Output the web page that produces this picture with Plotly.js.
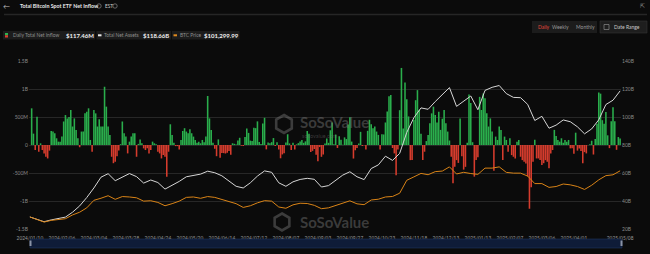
<!DOCTYPE html>
<html>
<head>
<meta charset="utf-8">
<script src="https://cdn.plot.ly/plotly-3.0.1.min.js"></script>
<style>html,body{margin:0;padding:0;background:#0b0b0b;}#chart{width:650px;height:254px;}</style>
</head>
<body>
<div id="chart"></div>
<script>
// ---- categories: US trading days (YYYY/MM, days) ----
const tradingMonths = [
  ["2024/01",[10,11,12,16,17,18,19,22,23,24,25,26,29,30,31]],
  ["2024/02",[1,2,5,6,7,8,9,12,13,14,15,16,20,21,22,23,26,27,28,29]],
  ["2024/03",[1,4,5,6,7,8,11,12,13,14,15,18,19,20,21,22,25,26,27,28]],
  ["2024/04",[1,2,3,4,5,8,9,10,11,12,15,16,17,18,19,22,23,24,25,26,29,30]],
  ["2024/05",[1,2,3,6,7,8,9,10,13,14,15,16,17,20,21,22,23,24,28,29,30,31]],
  ["2024/06",[3,4,5,6,7,10,11,12,13,14,17,18,20,21,24,25,26,27,28]],
  ["2024/07",[1,2,3,5,8,9,10,11,12,15,16,17,18,19,22,23,24,25,26,29,30,31]],
  ["2024/08",[1,2,5,6,7,8,9,12,13,14,15,16,19,20,21,22,23,26,27,28,29,30]],
  ["2024/09",[3,4,5,6,9,10,11,12,13,16,17,18,19,20,23,24,25,26,27,30]],
  ["2024/10",[1,2,3,4,7,8,9,10,11,14,15,16,17,18,21,22,23,24,25,28,29,30,31]],
  ["2024/11",[1,4,5,6,7,8,11,12,13,14,15,18,19,20,21,22,25,26,27,29]],
  ["2024/12",[2,3,4,5,6,9,10,11,12,13,16,17,18,19,20,23,24,26,27,30,31]],
  ["2025/01",[2,3,6,7,8,10,13,14,15,16,17,21,22,23,24,27,28,29,30,31]],
  ["2025/02",[3,4,5,6,7,10,11,12,13,14,18,19,20,21,24,25,26,27,28]],
  ["2025/03",[3,4,5,6,7,10,11,12,13,14,17,18,19,20,21,24,25,26,27,28,31]],
  ["2025/04",[1,2,3,4,7,8,9,10,11,14,15,16,17,21,22,23,24,25,28,29,30]],
  ["2025/05",[1,2,5,6,7,8]]
];
const dates = tradingMonths.flatMap(([m, ds]) => ds.map(d => m + "/" + String(d).padStart(2, "0")));

const tickLabels = ["2024/01/10","2024/02/06","2024/03/04","2024/03/28","2024/04/24","2024/05/20",
  "2024/06/14","2024/07/12","2024/08/07","2024/09/03","2024/09/27","2024/10/23","2024/11/18",
  "2024/12/13","2025/01/13","2025/02/07","2025/03/06","2025/04/01","2025/05/08"];

// ---- Daily total net inflow (USD millions), one per trading day ----
const dailyNetInflow = [
  // 2024/01
  0,655,203,-90,505,-120,30,-90,-150,-210,-240,-100,250,240,210,
  // 2024/02
  120,60,60,150,420,535,475,500,625,330,475,270,120,-40,240,240,565,595,655,90,
  // 2024/03
  -120,625,565,330,460,330,330,1040,685,330,180,-210,-325,-300,-200,-100,15,420,210,150,
  // 2024/04
  -150,60,150,210,210,-210,20,100,30,-60,-90,-60,-150,-90,60,30,15,-120,-150,-240,-180,-210,
  // 2024/05
  -565,-120,370,180,40,-20,-20,-80,90,250,300,240,210,280,210,150,90,40,60,30,90,50,
  // 2024/06
  150,875,475,270,40,-65,-200,100,-226,-145,-145,-152,-140,-105,-174,31,21,11,82,
  // 2024/07
  129,-13,-20,143,295,216,78,73,310,301,422,53,19,384,486,-78,44,31,51,124,-18,50,
  // 2024/08
  -80,-237,-168,-148,45,192,28,-89,39,-81,11,33,62,88,39,65,252,202,-127,-105,-72,-175,
  // 2024/09
  -288,-37,-211,-169,28,117,39,263,403,13,187,-53,158,93,4,136,106,365,495,61,
  // 2024/10
  -242,-92,-55,25,235,-18,-3,-81,253,450,371,300,330,240,180,-79,192,188,402,600,870,894,-54,
  // 2024/11
  -150,-541,-80,622,1376,294,1114,818,510,-270,-270,445,800,980,625,200,-270,-120,70,180,
  // 2024/12
  390,565,685,535,400,595,270,470,625,390,240,80,-210,-685,-390,-270,-320,475,-200,-440,-390,
  // 2025/01
  40,900,750,50,-565,-270,-220,860,625,920,835,565,330,475,240,-458,150,90,330,270,
  // 2025/02
  -270,150,90,-120,120,-180,-210,-240,60,90,-210,-270,-300,-330,-560,-1138,-755,-300,94,
  // 2025/03
  -240,-240,-270,-355,-325,-270,-300,-415,-150,-90,270,160,90,60,120,40,90,60,90,-60,-60,
  // 2025/04
  -157,220,-100,-64,-109,-326,-127,-150,1.5,15,76,-170,107,381,936,917,443,381,591,173,-56,
  // 2025/05
  422,675,425,-86,142,117.46
];

// ---- Lines: sampled every 4th trading day ----
const lineDates = dates.filter((d, i) => i % 4 === 0);
// Total net assets (USD billions)
const totalNetAssets = [
  28.6,26.8,25.2,26.5,27.4,28.5,32,36.5,42.5,49.3,57,59.5,54.5,57,59.6,57.4,52.8,55,53.2,48.5,
  51,54,57.3,58.2,59.2,61.3,60.2,58,54.3,50.5,49.3,53,57.8,61.5,60.5,53,50.5,53.7,55.4,56.2,
  55.5,50,51,54.5,58.5,60.9,57.3,55.3,63.2,65.8,72,69,74,89,99.5,106.5,105.5,111,116.2,121,
  107.6,111.5,115,105.2,119,121.2,122.5,116.7,114,113.8,109,97.5,100.5,92,94.2,97.9,96.6,93,88,91.5,
  98,108.9,112,118.66
];
// BTC price (USD thousands)
const btcPrice = [
  46.1,42.6,40.0,42,42.8,44,48.5,51.8,57,66,68.5,71.5,67.2,70.5,70,69,65,65.5,63.5,59.5,
  62,65,69.5,70,68.4,70.5,69.5,66.8,64.8,62,57.5,59.5,63,65.6,65,58,56.5,60.6,62.5,62.2,
  60,56,57,59.5,62.3,65.4,61.8,60.8,66.4,67.3,70,70.6,74.5,90,94,98.2,96.6,100.3,101,106,
  97.5,99.5,98,97,104.5,104.5,106,99.4,98.5,98.5,95,86,86,81.5,82.5,85.5,84.5,82.5,79,84,
  90.5,95.5,96.5,101.299
];

// ---- layout helpers (pixel -> paper) ----
const W = 650, H = 254, ML = 29, MR = 29, MT = 61, MB = 6;
const PW = W - ML - MR, PH = H - MT - MB;
const P = px => (px - ML) / PW;
const Q = py => (H - MB - py) / PH;
const FONT = "Lato, 'Open Sans', 'DejaVu Sans', sans-serif";

const annotations = [];
const shapes = [];
function txt(x, y, text, size, color, anchor) {
  annotations.push({xref:"paper", yref:"paper", x:P(x), y:Q(y), text:text, showarrow:false,
    xanchor:anchor || "left", yanchor:"middle", borderpad:0, font:{family:FONT, size:size, color:color}});
}
function rect(x0, y0, x1, y1, fill, line, lw) {
  shapes.push({type:"rect", xref:"paper", yref:"paper", x0:P(x0), x1:P(x1), y0:Q(y1), y1:Q(y0),
    fillcolor:fill, line:{color:line || fill, width:lw === undefined ? 0 : lw}, layer:"above"});
}
function hline(x0, x1, y, color, w) {
  shapes.push({type:"line", xref:"paper", yref:"paper", x0:P(x0), x1:P(x1), y0:Q(y), y1:Q(y),
    line:{color:color, width:w}, layer:"above"});
}
function circle(cx, cy, r, color) {
  shapes.push({type:"circle", xref:"paper", yref:"paper", x0:P(cx - r), x1:P(cx + r), y0:Q(cy + r), y1:Q(cy - r),
    line:{color:color, width:0.7}, layer:"above"});
}
function hexagon(cx, cy, r, color, w) {
  let d = "";
  for (let k = 0; k < 6; k++) {
    const a = Math.PI / 180 * (60 * k - 90);
    const px = cx + r * Math.cos(a), py = cy + r * Math.sin(a);
    d += (k === 0 ? "M" : "L") + P(px) + "," + Q(py);
  }
  d += "Z";
  shapes.push({type:"path", xref:"paper", yref:"paper", path:d, line:{color:color, width:w}, layer:"above"});
}

// header
txt(6, 6, "←", 7, "#bdbdbd", "center");
hline(4, 647, 14.5, "#262626", 1.5);
txt(19, 6, "<b>Total Bitcoin Spot ETF Net Inflow</b>", 5.3, "#e8e8e8");
circle(99, 6, 2.2, "#8a8a8a");
txt(104, 6, "EST", 4.8, "#cfcfcf");
circle(115, 6, 2.2, "#8a8a8a");
txt(642, 6, "⇱", 6, "#9a9a9a", "center");

// buttons
rect(532, 21, 597, 33, "#1c1c1c", "#1c1c1c", 0);
txt(537, 27, "Daily", 5, "#e0463a");
txt(551, 27, "Weekly", 5, "#9a9a9a");
txt(575, 27, "Monthly", 5, "#9a9a9a");
rect(600, 21, 647, 33, "#1e1e1e", "#333333", 0.6);
rect(604, 24.5, 609, 29.5, "rgba(0,0,0,0)", "#9a9a9a", 0.6);
txt(613, 27, "Date Range", 5, "#c8c8c8");

// legend chips
rect(3, 31, 95, 39.5, "#1c1c1c");
rect(5, 33, 8, 35.2, "#2fb24f");
rect(5, 35.2, 8, 37.5, "#d9412e");
txt(12, 35.3, "Daily Total Net Inflow", 4.9, "#8e8e8e");
txt(64.5, 35.3, "<b>$117.46M</b>", 6, "#f0f0f0");
rect(96.5, 31, 171, 39.5, "#1c1c1c");
rect(98, 34.3, 101.5, 36.3, "#e6e6e6");
txt(103, 35.3, "Total Net Assets", 4.9, "#8e8e8e");
txt(142, 35.3, "<b>$118.66B</b>", 6, "#f0f0f0");
rect(172, 31, 239.5, 39.5, "#1c1c1c");
rect(173.5, 34.3, 177, 36.3, "#e08a1e");
txt(179, 35.3, "BTC Price", 4.9, "#8e8e8e");
txt(202.5, 35.3, "<b>$101,299.99</b>", 6, "#f0f0f0");

// watermarks
const wm = "rgba(120,120,120,0.45)";
hexagon(284, 124, 9, wm, 2.6);
txt(299, 121.5, "<b>SoSoValue</b>", 15, wm);
txt(301, 135.5, "sosovalue.com", 5.5, wm);
hexagon(282, 222, 8.5, wm, 2.6);
txt(299, 221.5, "<b>SoSoValue</b>", 15, wm);

// navigator
rect(30, 239, 622, 248, "#0f1c38", "#1f355f", 0.6);
rect(29.5, 240.5, 31.5, 246, "#8a93a6");
rect(620.5, 240.5, 622.5, 246, "#8a93a6");

const barColors = dailyNetInflow.map(v => v >= 0 ? "#2aae4c" : "#d63c2d");

const traces = [
  {type:"bar", x:dates, y:dailyNetInflow, xaxis:"x", yaxis:"y", marker:{color:barColors, line:{width:0}}, name:"Daily Total Net Inflow"},
  {type:"scatter", mode:"lines", x:lineDates, y:totalNetAssets, xaxis:"x", yaxis:"y2", line:{color:"#d6d6d6", width:1}, name:"Total Net Assets"},
  {type:"scatter", mode:"lines", x:lineDates, y:btcPrice, xaxis:"x", yaxis:"y3", line:{color:"#d98316", width:1}, name:"BTC Price"},
  {type:"scatter", mode:"lines", x:lineDates, y:btcPrice, xaxis:"x2", yaxis:"y4", fill:"tozeroy", fillcolor:"#234684", line:{color:"#3c66b8", width:0.8}, name:"nav"}
];

const layout = {
  width:W, height:H, margin:{l:ML, r:MR, t:MT, b:MB},
  paper_bgcolor:"#0b0b0b", plot_bgcolor:"#0b0b0b",
  showlegend:false, bargap:0.12,
  font:{family:FONT, color:"#8a8a8a", size:5},
  xaxis:{type:"category", categoryorder:"array", categoryarray:dates, tickmode:"array",
    tickvals:tickLabels, ticktext:tickLabels, tickangle:0, showgrid:false, zeroline:false, showline:false,
    ticks:"", ticklabelstandoff:5, tickfont:{size:4.8, color:"#9a9a9a"}, anchor:"y", domain:[0,1], range:[-0.5, dates.length - 0.5]},
  xaxis2:{type:"category", categoryorder:"array", categoryarray:dates, visible:false, anchor:"y4",
    domain:[P(30), P(622)], range:[-0.5, dates.length - 0.5]},
  yaxis:{domain:[Q(229), 1], range:[-1500, 1500], tickmode:"array",
    tickvals:[-1500,-1000,-500,0,500,1000,1500], ticktext:["-1.5B","-1B","-500M","0","500M","1B","1.5B"],
    gridcolor:"#272727", gridwidth:1, zeroline:false, showline:false, ticks:"", tickfont:{size:5, color:"#8a8a8a"}},
  yaxis2:{overlaying:"y", side:"right", range:[20, 140], tickmode:"array",
    tickvals:[20,40,60,80,100,120,140], ticktext:["20B","40B","60B","80B","100B","120B","140B"],
    showgrid:false, zeroline:false, showline:false, ticks:"", tickfont:{size:5, color:"#8a8a8a"}},
  yaxis3:{overlaying:"y", range:[31.7, 232.6], visible:false},
  yaxis4:{domain:[Q(248) + 0.004, Q(239.5)], range:[-420, 125], visible:false},
  annotations:annotations, shapes:shapes
};

Plotly.newPlot("chart", traces, layout, {displayModeBar:false, staticPlot:true});
</script>
</body>
</html>
